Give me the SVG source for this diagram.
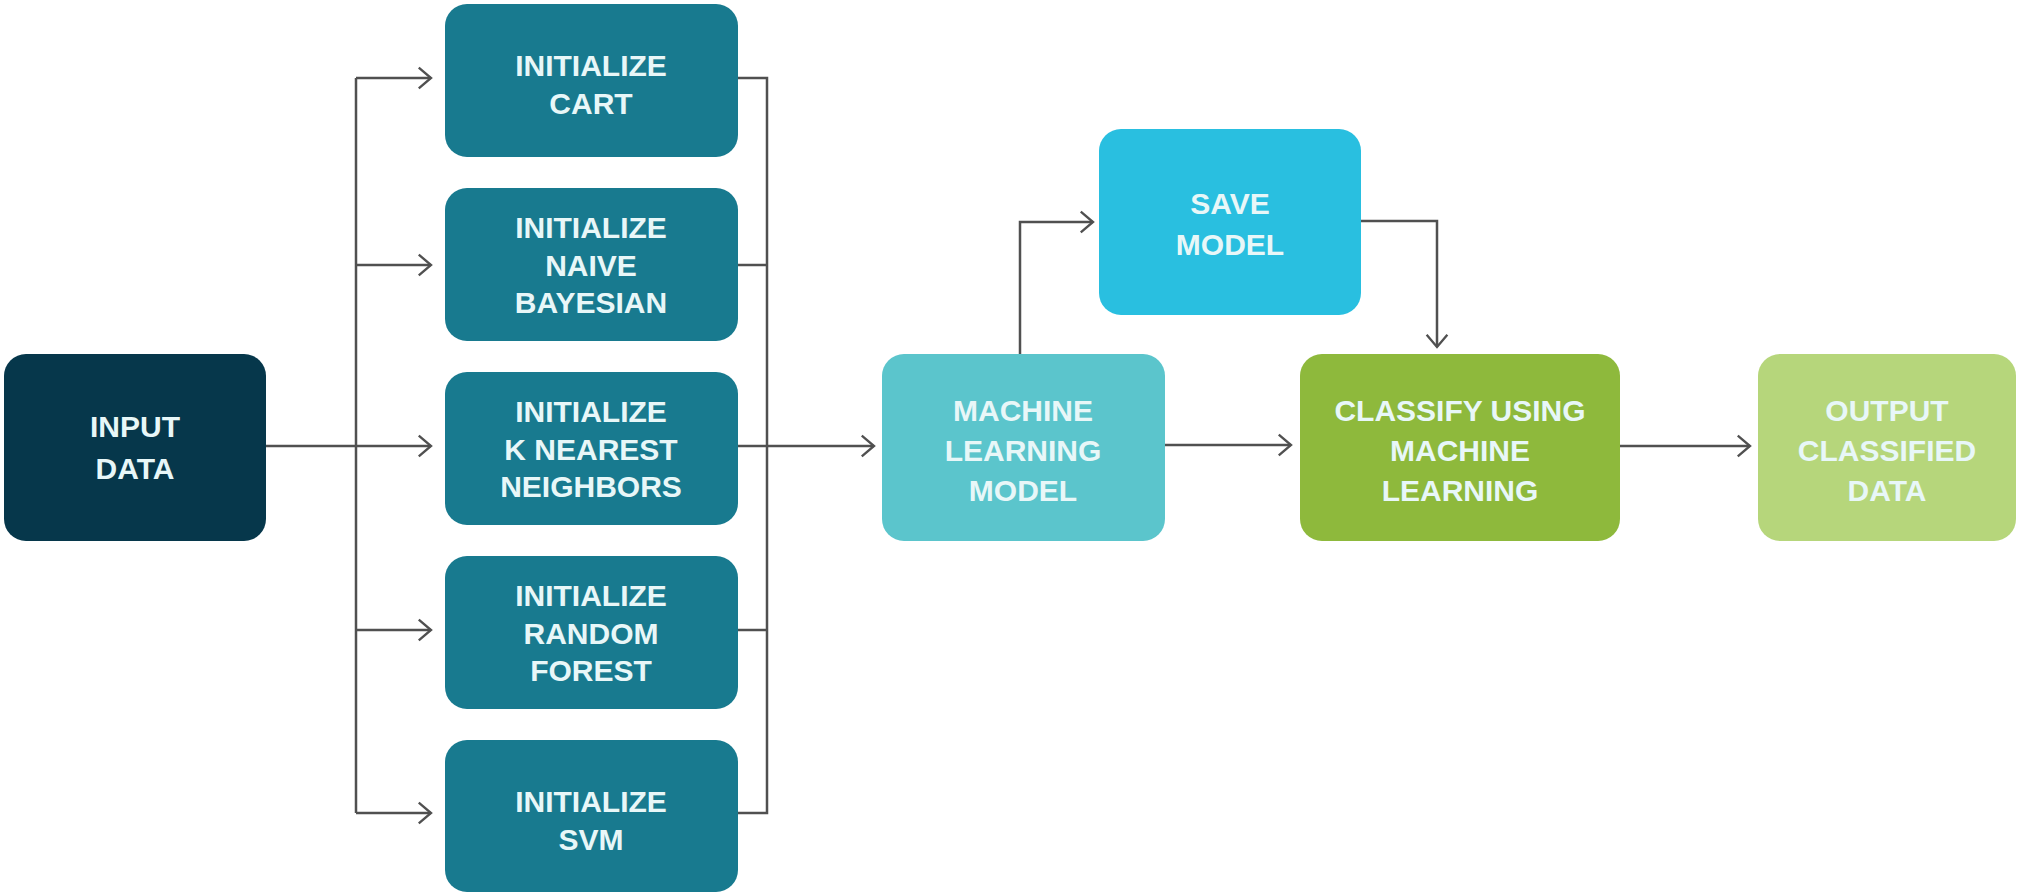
<svg xmlns="http://www.w3.org/2000/svg" width="2019" height="896" viewBox="0 0 2019 896">
  <style>
    .box { stroke: none; }
    .lbl { font-family: "Liberation Sans", Arial, sans-serif; font-weight: bold; font-size: 30px; fill: #e8f7f8; text-anchor: middle; }
    .wire { fill: none; stroke: #505050; stroke-width: 2.5; }
  </style>
  <defs>
    <marker id="chev" markerUnits="userSpaceOnUse" markerWidth="16" markerHeight="26" refX="13" refY="11" orient="auto" viewBox="-2 -2 17 26">
      <path d="M0,0 L13,11 L0,22" fill="none" stroke="#505050" stroke-width="2.5"/>
    </marker>
  </defs>
  <rect width="2019" height="896" fill="#ffffff"/>

  <!-- connectors -->
  <g id="connectors">
    <path class="wire" d="M266,446 H356"/>
    <path class="wire" d="M356,78 V813"/>
    <path class="wire" d="M356,78 H431" marker-end="url(#chev)"/>
    <path class="wire" d="M356,265 H431" marker-end="url(#chev)"/>
    <path class="wire" d="M356,446 H431" marker-end="url(#chev)"/>
    <path class="wire" d="M356,630 H431" marker-end="url(#chev)"/>
    <path class="wire" d="M356,813 H431" marker-end="url(#chev)"/>
    <path class="wire" d="M738,78 H767 V813 H738"/>
    <path class="wire" d="M738,265 H767"/>
    <path class="wire" d="M738,446 H767"/>
    <path class="wire" d="M738,630 H767"/>
    <path class="wire" d="M767,446 H874" marker-end="url(#chev)"/>
    <path class="wire" d="M1020,354 V222 H1093" marker-end="url(#chev)"/>
    <path class="wire" d="M1361,221 H1437 V347" marker-end="url(#chev)"/>
    <path class="wire" d="M1165,445 H1291" marker-end="url(#chev)"/>
    <path class="wire" d="M1620,446 H1750" marker-end="url(#chev)"/>
  </g>

  <g id="input-data">
    <rect class="box" x="4" y="354" width="262" height="187" rx="22" fill="#06374b"/>
    <text class="lbl" x="135" y="437">INPUT</text>
    <text class="lbl" x="135" y="479">DATA</text>
  </g>

  <g id="init-cart">
    <rect class="box" x="445" y="4" width="293" height="153" rx="22" fill="#187a8f"/>
    <text class="lbl" x="591" y="76">INITIALIZE</text>
    <text class="lbl" x="591" y="114">CART</text>
  </g>

  <g id="init-naive-bayesian">
    <rect class="box" x="445" y="188" width="293" height="153" rx="22" fill="#187a8f"/>
    <text class="lbl" x="591" y="238">INITIALIZE</text>
    <text class="lbl" x="591" y="276">NAIVE</text>
    <text class="lbl" x="591" y="313">BAYESIAN</text>
  </g>

  <g id="init-knn">
    <rect class="box" x="445" y="372" width="293" height="153" rx="22" fill="#187a8f"/>
    <text class="lbl" x="591" y="422">INITIALIZE</text>
    <text class="lbl" x="591" y="460">K NEAREST</text>
    <text class="lbl" x="591" y="497">NEIGHBORS</text>
  </g>

  <g id="init-random-forest">
    <rect class="box" x="445" y="556" width="293" height="153" rx="22" fill="#187a8f"/>
    <text class="lbl" x="591" y="606">INITIALIZE</text>
    <text class="lbl" x="591" y="644">RANDOM</text>
    <text class="lbl" x="591" y="681">FOREST</text>
  </g>

  <g id="init-svm">
    <rect class="box" x="445" y="740" width="293" height="152" rx="22" fill="#187a8f"/>
    <text class="lbl" x="591" y="812">INITIALIZE</text>
    <text class="lbl" x="591" y="850">SVM</text>
  </g>

  <g id="ml-model">
    <rect class="box" x="882" y="354" width="283" height="187" rx="22" fill="#5bc5cc"/>
    <text class="lbl" x="1023" y="421">MACHINE</text>
    <text class="lbl" x="1023" y="461">LEARNING</text>
    <text class="lbl" x="1023" y="501">MODEL</text>
  </g>

  <g id="save-model">
    <rect class="box" x="1099" y="129" width="262" height="186" rx="22" fill="#29bfe0"/>
    <text class="lbl" x="1230" y="214">SAVE</text>
    <text class="lbl" x="1230" y="255">MODEL</text>
  </g>

  <g id="classify">
    <rect class="box" x="1300" y="354" width="320" height="187" rx="22" fill="#8eb93c"/>
    <text class="lbl" x="1460" y="421">CLASSIFY USING</text>
    <text class="lbl" x="1460" y="461">MACHINE</text>
    <text class="lbl" x="1460" y="501">LEARNING</text>
  </g>

  <g id="output-data">
    <rect class="box" x="1758" y="354" width="258" height="187" rx="22" fill="#b6d67b"/>
    <text class="lbl" x="1887" y="421">OUTPUT</text>
    <text class="lbl" x="1887" y="461">CLASSIFIED</text>
    <text class="lbl" x="1887" y="501">DATA</text>
  </g>
</svg>
